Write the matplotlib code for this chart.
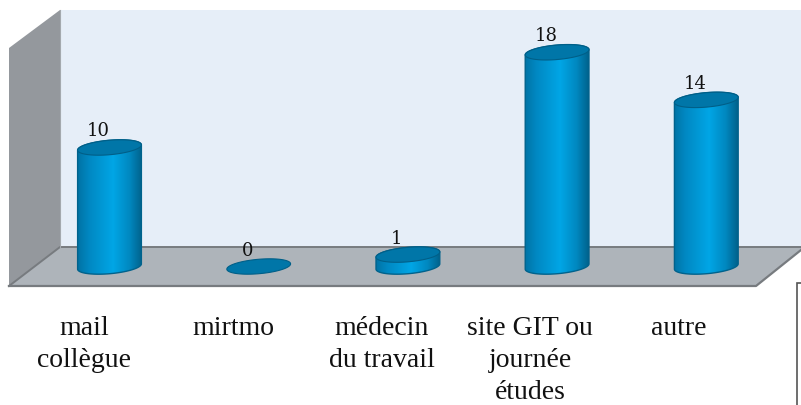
import numpy as np
import matplotlib
matplotlib.use("Agg")
import matplotlib.pyplot as plt
from matplotlib.patches import Polygon, Rectangle
from matplotlib.colors import LinearSegmentedColormap

categories = ["mail\ncollègue", "mirtmo", "médecin\ndu travail", "site GIT ou\njournée\nétudes", "autre"]
values = [10, 0, 1, 18, 14]
value_labels = ["10", "0", "1", "18", "14"]

W, H = 801, 405
plt.rcParams['font.family'] = ['Liberation Serif', 'DejaVu Serif']
fig = plt.figure(figsize=(W/100, H/100), dpi=100, facecolor='white')

# scenery in pixel coordinates
bg = fig.add_axes([0, 0, 1, 1])
bg.set_xlim(0, W); bg.set_ylim(H, 0); bg.axis('off')
bg.add_patch(Polygon([(60, 10), (801, 10), (801, 247), (60, 247)], fc='#e6eef8', ec='none'))
bg.add_patch(Polygon([(9, 48), (60, 10), (60, 247), (9, 286)], fc='#94989d', ec='none'))
bg.add_patch(Polygon([(9, 286), (60, 247), (801, 247), (801, 250), (756, 286)], fc='#aeb4ba', ec='none'))
bg.plot([9, 60, 801], [286, 247, 247], color='#777b7f', lw=1.4)
bg.plot([9, 756, 801], [286, 286, 250], color='#777b7f', lw=1.6)
bg.plot([60, 60], [10, 247], color='#a4a9ae', lw=0.8)
bg.add_patch(Rectangle((796.5, 283), 10, 130, fc='white', ec='#555555', lw=1.2))

# data axes: category index on x, value on y
X0, DX = 109.5, 149.2
Y0, DY = 266.5, 11.9
ax = fig.add_axes([0, 0, 1, 1], facecolor='none')
ax.set_xlim(-X0/DX, (W-X0)/DX)
ax.set_ylim((Y0-H)/DY, Y0/DY)
ax.axis('off')

A, B, ANG = 32, 7.2, np.radians(5)
cmap = LinearSegmentedColormap.from_list('cyl', [(0, '#0071a3'), (0.18, '#0088c2'), (0.55, '#00a6e6'),
                                                 (0.8, '#0088c0'), (1, '#005f88')])

def ell(xc, yc, t):
    px = A*np.cos(t)*np.cos(ANG) + B*np.sin(t)*np.sin(ANG)
    py = -A*np.cos(t)*np.sin(ANG) + B*np.sin(t)*np.cos(ANG)  # py downward
    return xc + px/DX, yc - py/DY

t_all = np.linspace(0, 2*np.pi, 120)
for i, v in enumerate(values):
    if v > 0:
        tb = np.linspace(0, np.pi, 60)
        xb, yb = ell(i, 0, tb)
        tt = np.linspace(np.pi, 2*np.pi, 60)
        xt, yt = ell(i, v, tt)
        poly = Polygon(np.c_[np.r_[xb, xt], np.r_[yb, yt]], fc='none', ec='#00628c', lw=1.0, zorder=3)
        ax.add_patch(poly)
        left, right = i - (A+1)/DX, i + (A+1)/DX
        im = ax.imshow(np.linspace(0, 1, 128)[None, :], cmap=cmap, aspect='auto', zorder=2,
                       extent=[left, right, -1, v+1])
        im.set_clip_path(poly)
    xe, ye = ell(i, v, t_all)
    ax.add_patch(Polygon(np.c_[xe, ye], fc='#0076a8', ec='#005f88', lw=0.8, zorder=4))
    ax.text(i - 11/DX, v + 11/DY, value_labels[i], ha='center', va='baseline',
            fontsize=13, family='DejaVu Serif', color='#111111', zorder=5)

ax.set_xlim(-X0/DX, (W-X0)/DX)
ax.set_ylim((Y0-H)/DY, Y0/DY)

# category labels
label_x = [84, 233, 382, 530, 679]
for lx, c in zip(label_x, categories):
    bg.text(lx, 316, c, ha='center', va='top', fontsize=20, color='#111111', linespacing=1.37)

fig.savefig('out.png', dpi=100)
